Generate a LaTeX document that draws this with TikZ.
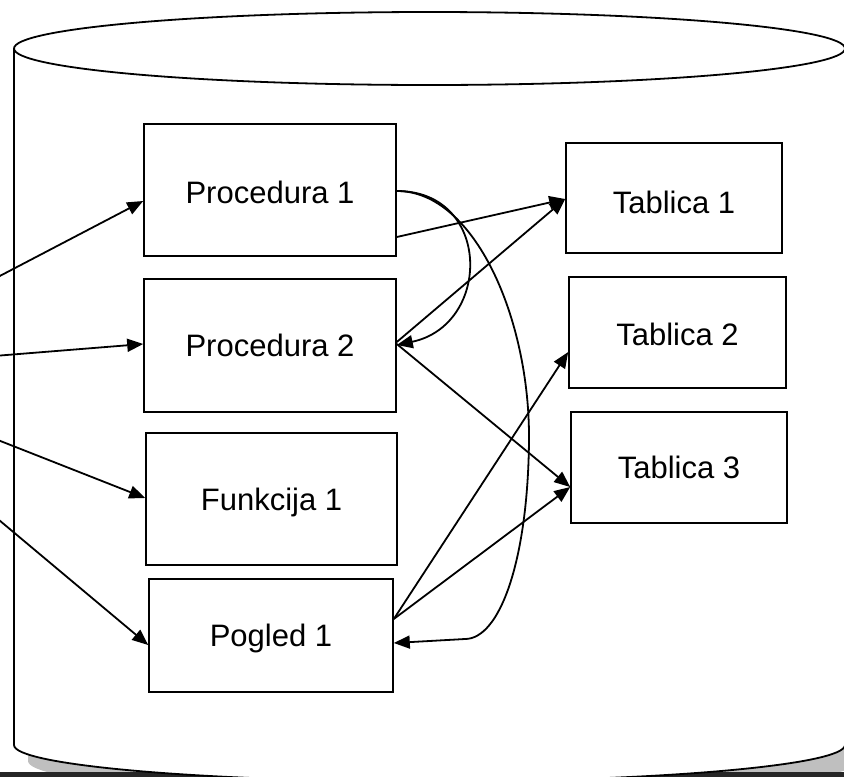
\documentclass[tikz,border=0pt]{standalone}
\usepackage{fontspec}
\setmainfont{Liberation Sans}
\usetikzlibrary{arrows.meta,calc}
\definecolor{shadowgray}{HTML}{BFBFBF}
\definecolor{darkband}{HTML}{262626}
\begin{document}
\begin{tikzpicture}[x=1pt,y=-1pt,
  box/.style={draw, line width=1.6pt, fill=white, inner sep=0pt,
    font=\fontsize{31}{37}\selectfont, text height=22pt, text depth=0pt},
  conn/.style={line width=1.8pt, -{Triangle[length=16pt,width=13pt]}},
  cyl/.style={line width=1.8pt}]
\useasboundingbox (0,0) rectangle (844,777);
\clip (0,0) rectangle (844,777);
% shadow of the cylinder
\fill[shadowgray] (28,64.5) rectangle (861,761);
\fill[shadowgray] (443.5,761) ellipse [x radius=415.5, y radius=36.5];
\fill[darkband] (0,772) rectangle (844,777);
% cylinder
\fill[white] (14,48.5) rectangle (845,745);
\fill[white] (429.5,745) ellipse [x radius=415.5, y radius=36.5];
\draw[cyl] (14,48.5) -- (14,745);
\draw[cyl] (845,48.5) -- (845,745);
\begin{scope}
  \clip (0,745) rectangle (850,800);
  \draw[cyl] (429.5,745) ellipse [x radius=415.5, y radius=36.5];
\end{scope}
\draw[cyl] (429.5,48.5) ellipse [x radius=415.5, y radius=36.5];
% boxes
\node[box, minimum width=252pt, minimum height=132pt, text height=26pt] (p1) at (270,190) {Procedura 1};
\node[box, minimum width=252pt, minimum height=133pt] (p2) at (270,345.5) {Procedura 2};
\node[box, minimum width=251pt, minimum height=132pt] (f1) at (271.5,499) {Funkcija 1};
\node[box, minimum width=244pt, minimum height=113pt] (pg) at (271,635.5) {Pogled 1};
\node[box, minimum width=216pt, minimum height=110pt, text height=30pt] (t1) at (674,198) {Tablica 1};
\node[box, minimum width=217pt, minimum height=111pt, text height=25pt] (t2) at (677.5,332.5) {Tablica 2};
\node[box, minimum width=216pt, minimum height=111pt] (t3) at (679,467.5) {Tablica 3};
% external source (off the picture, left)
\coordinate (ext) at (-180,370);
\draw[conn] (ext) -- (p1.west |- 0,201);
\draw[conn] (ext) -- (p2.west |- 0,344);
\draw[conn] (ext) -- (f1.west |- 0,498);
\draw[conn] (ext) -- (pg.west |- 0,645);
% right side connections
\draw[conn] (p1.east |- 0,237) -- (t1.west |- 0,199);
\draw[conn] (p2.east |- 0,342) -- (t1.west |- 0,199);
\draw[conn] (p2.east |- 0,344) -- (t3.west |- 0,487);
\draw[conn] (pg.east |- 0,619) -- (t3.west |- 0,487);
\draw[conn] (pg.east |- 0,619) -- (t2.west |- 0,352);
\draw[conn] (p1.east |- 0,191) .. controls (492,191) and (492,325) .. (p2.east |- 0,345);
\draw[conn] (p1.east |- 0,191) .. controls (475,191) and (530,320) .. (529,440)
  .. controls (528,560) and (500,639) .. (465,639) -- (pg.east |- 0,643);
\end{tikzpicture}
\end{document}
